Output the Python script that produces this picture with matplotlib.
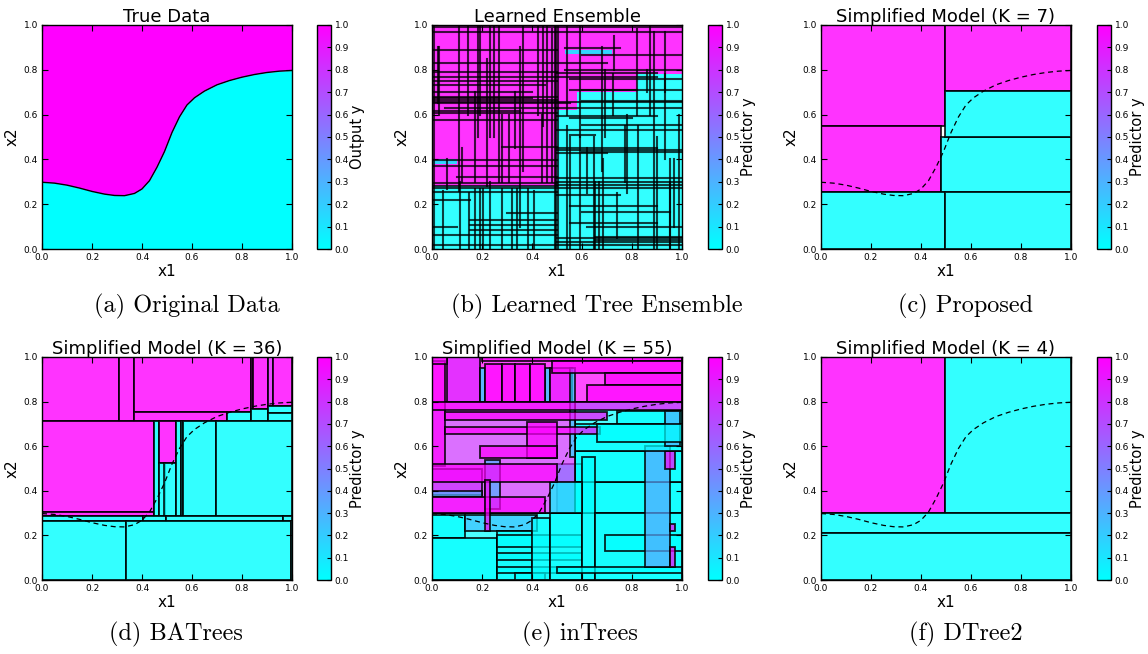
import numpy as np
import matplotlib
matplotlib.use("Agg")
import matplotlib.pyplot as plt
from matplotlib.patches import Rectangle
from matplotlib.cm import ScalarMappable
from matplotlib.colors import Normalize

# true decision boundary
curve_x = [0.0, 0.05, 0.10, 0.15, 0.20, 0.25, 0.29, 0.33, 0.37, 0.40, 0.43, 0.46,
           0.49, 0.52, 0.55, 0.58, 0.61, 0.65, 0.70, 0.75, 0.80, 0.85, 0.90, 0.95, 1.0]
curve_y = [0.298, 0.294, 0.285, 0.272, 0.257, 0.245, 0.239, 0.238, 0.248, 0.268, 0.305, 0.365,
           0.435, 0.52, 0.59, 0.643, 0.675, 0.705, 0.733, 0.752, 0.767, 0.779, 0.788, 0.794, 0.797]

# rectangles: (x0, x1, y0, y1, value)
ens_rects = [
    (0.0, 0.5, 0.28, 1.0, 1.0), (0.0, 0.5, 0.0, 0.28, 0.0),
    (0.5, 1.0, 0.78, 1.0, 1.0), (0.82, 1.0, 0.0, 0.78, 0.0),
    (0.58, 0.82, 0.70, 0.78, 1.0), (0.58, 0.82, 0.0, 0.70, 0.0),
    (0.5, 0.58, 0.62, 0.78, 1.0), (0.5, 0.58, 0.0, 0.62, 0.0),
    (0.0, 0.1, 0.38, 0.40, 0.0), (0.53, 0.72, 0.87, 0.89, 0.0),
]
ens_vlines = [
    (0.007, 0.0, 1.0), (0.027, 0.6, 0.9), (0.107, 0.26, 1.0), (0.113, 0.0, 0.3), (0.147, 0.0, 0.25),
    (0.173, 0.3, 0.7), (0.19, 0.6, 1.0), (0.22, 0.28, 0.85), (0.233, 0.0, 0.3), (0.267, 0.3, 1.0),
    (0.28, 0.3, 0.6), (0.307, 0.3, 0.6), (0.32, 0.0, 0.27), (0.353, 0.1, 0.9), (0.364, 0.35, 1.0),
    (0.407, 0.0, 0.26), (0.44, 0.3, 0.6), (0.48, 0.3, 0.98), (0.49, 0.0, 1.0), (0.497, 0.0, 1.0),
    (0.505, 0.0, 1.0), (0.54, 0.0, 0.55), (0.593, 0.5, 1.0), (0.647, 0.0, 0.5), (0.667, 0.0, 0.3),
    (0.68, 0.35, 0.9), (0.727, 0.8, 0.95), (0.78, 0.25, 0.6), (0.82, 0.6, 0.98), (0.86, 0.7, 0.8),
    (0.887, 0.0, 0.97), (0.9, 0.0, 0.5), (0.933, 0.7, 0.97), (0.953, 0.0, 0.3), (0.967, 0.1, 0.4),
    (0.987, 0.0, 0.6), (0.06, 0.27, 0.4), (0.33, 0.45, 0.7), (0.62, 0.25, 0.45), (0.74, 0.05, 0.25),
    (0.145, 0.6, 1.0), (0.185, 0.5, 1.0), (0.232, 0.5, 1.0), (0.249, 0.5, 1.0), (0.425, 0.6, 1.0),
    (0.445, 0.55, 1.0), (0.459, 0.3, 1.0), (0.023, 0.65, 0.9), (0.552, 0.0, 0.5), (0.592, 0.0, 0.5),
    (0.652, 0.0, 0.3), (0.685, 0.0, 0.4), (0.772, 0.3, 0.55), (0.825, 0.0, 0.55), (0.952, 0.0, 0.4),
    (0.045, 0.0, 0.26), (0.172, 0.0, 0.27), (0.192, 0.0, 0.27), (0.205, 0.0, 0.27), (0.279, 0.0, 0.27),
    (0.339, 0.0, 0.27), (0.385, 0.0, 0.27), (0.119, 0.3, 0.45), (0.539, 0.6, 1.0), (0.692, 0.5, 0.8),
    (0.725, 0.6, 0.78), (0.872, 0.6, 1.0), (0.932, 0.4, 0.78),
]
ens_hlines = [
    (0.993, 0.0, 1.0), (0.97, 0.0, 1.0), (0.896, 0.53, 0.75), (0.888, 0.0, 0.5), (0.83, 0.0, 0.7),
    (0.80, 0.53, 1.0), (0.79, 0.0, 0.5), (0.77, 0.0, 0.9), (0.75, 0.0, 0.5), (0.71, 0.6, 0.82),
    (0.673, 0.0, 0.4), (0.658, 0.0, 1.0), (0.65, 0.0, 0.55), (0.628, 0.5, 1.0), (0.606, 0.0, 0.5),
    (0.583, 0.55, 0.8), (0.554, 0.6, 1.0), (0.531, 0.5, 1.0), (0.51, 0.55, 0.65), (0.457, 0.28, 0.5),
    (0.44, 0.5, 1.0), (0.427, 0.5, 0.7), (0.397, 0.0, 0.5), (0.37, 0.0, 0.5), (0.323, 0.1, 0.5),
    (0.30, 0.5, 1.0), (0.293, 0.0, 0.5), (0.286, 0.5, 1.0), (0.271, 0.0, 1.0), (0.256, 0.0, 0.5),
    (0.219, 0.0, 0.15), (0.19, 0.55, 0.9), (0.16, 0.3, 0.5), (0.13, 0.15, 0.5), (0.10, 0.0, 0.1),
    (0.10, 0.62, 1.0), (0.085, 0.15, 0.5), (0.055, 0.65, 1.0), (0.04, 0.65, 1.0), (0.018, 0.0, 1.0),
    (0.73, 0.0, 0.45), (0.70, 0.0, 0.4), (0.68, 0.0, 0.5), (0.666, 0.0, 0.5), (0.63, 0.05, 0.5),
    (0.616, 0.0, 0.35), (0.575, 0.0, 0.5), (0.45, 0.5, 0.9), (0.435, 0.6, 1.0), (0.315, 0.5, 1.0),
    (0.241, 0.5, 0.75), (0.166, 0.6, 0.95), (0.115, 0.55, 0.9), (0.048, 0.5, 1.0), (0.033, 0.5, 1.0),
    (0.063, 0.0, 0.5), (0.107, 0.15, 0.5), (0.28, 0.0, 0.5), (0.866, 0.6, 1.0), (0.784, 0.5, 0.9),
    (0.76, 0.55, 1.0), (0.71, 0.55, 1.0), (0.66, 0.6, 1.0), (0.595, 0.5, 0.9),
]

prop_rects = [
    (0.0, 0.495, 0.55, 1.0, 1.0), (0.495, 1.0, 0.705, 1.0, 1.0), (0.0, 0.48, 0.255, 0.55, 1.0),
    (0.48, 1.0, 0.255, 0.5, 0.0), (0.495, 1.0, 0.5, 0.705, 0.0), (0.0, 0.495, 0.0, 0.255, 0.0),
    (0.495, 1.0, 0.0, 0.255, 0.0),
]

ba_rects = [
    (0.0, 0.31, 0.715, 1.0, 1.0), (0.31, 0.37, 0.715, 1.0, 1.0), (0.37, 0.835, 0.755, 1.0, 1.0),
    (0.37, 0.74, 0.715, 0.755, 1.0), (0.74, 0.835, 0.715, 0.755, 0.0), (0.835, 0.845, 0.765, 1.0, 1.0),
    (0.845, 0.905, 0.765, 1.0, 1.0), (0.835, 0.905, 0.715, 0.765, 0.0), (0.905, 0.925, 0.78, 1.0, 0.9),
    (0.925, 1.0, 0.78, 1.0, 1.0), (0.905, 1.0, 0.75, 0.78, 0.0), (0.905, 1.0, 0.715, 0.75, 0.0),
    (0.0, 0.45, 0.307, 0.715, 1.0), (0.0, 0.45, 0.285, 0.307, 1.0), (0.45, 0.468, 0.285, 0.715, 0.0),
    (0.468, 0.537, 0.524, 0.715, 1.0), (0.468, 0.49, 0.285, 0.524, 0.0), (0.49, 0.537, 0.285, 0.524, 0.0),
    (0.537, 0.555, 0.285, 0.715, 0.0), (0.555, 0.564, 0.285, 0.715, 0.0), (0.564, 0.698, 0.285, 0.715, 0.0),
    (0.698, 1.0, 0.285, 0.715, 0.0), (0.0, 0.405, 0.265, 0.285, 0.0), (0.405, 0.495, 0.265, 0.285, 0.0),
    (0.495, 0.965, 0.265, 0.285, 0.0), (0.965, 1.0, 0.265, 0.285, 0.0), (0.0, 0.337, 0.0, 0.265, 0.0),
    (0.337, 0.995, 0.0, 0.265, 0.0), (0.995, 1.0, 0.0, 0.265, 0.0),
]

in_rects = [
    (0.0, 1.0, 0.0, 0.30, 0.0), (0.0, 1.0, 0.80, 1.0, 1.0), (0.57, 1.0, 0.30, 0.80, 0.0),
    (0.0, 0.13, 0.19, 0.29, 0.0), (0.0, 0.26, 0.0, 0.19, 0.0), (0.13, 0.42, 0.22, 0.29, 0.25),
    (0.26, 0.40, 0.0, 0.22, 0.0), (0.26, 0.60, 0.15, 0.20, 0.0), (0.26, 0.60, 0.09, 0.12, 0.0),
    (0.26, 0.60, 0.03, 0.06, 0.0), (0.33, 0.45, 0.0, 0.03, 0.0), (0.40, 0.47, 0.0, 0.28, 0.0),
    (0.47, 0.60, 0.0, 0.30, 0.0), (0.50, 1.0, 0.30, 0.44, 0.0), (0.50, 0.60, 0.44, 0.52, 0.0),
    (0.57, 1.0, 0.44, 0.58, 0.0), (0.60, 0.65, 0.0, 0.55, 0.0), (0.65, 1.0, 0.0, 0.30, 0.0),
    (0.69, 1.0, 0.13, 0.20, 0.0), (0.50, 1.0, 0.03, 0.06, 0.0), (0.85, 0.95, 0.06, 0.60, 0.35),
    (0.93, 0.97, 0.50, 0.58, 1.0), (0.95, 0.97, 0.22, 0.25, 1.0), (0.95, 0.97, 0.06, 0.15, 1.0),
    (0.57, 1.0, 0.58, 0.70, 0.0), (0.74, 1.0, 0.70, 0.76, 0.0), (0.93, 0.99, 0.60, 0.76, 0.3),
    (0.0, 0.57, 0.30, 0.80, 0.8), (0.21, 0.27, 0.32, 0.54, 0.3), (0.47, 0.60, 0.30, 0.44, 0.0),
    (0.0, 0.05, 0.51, 0.98, 1.0), (0.06, 0.19, 0.80, 1.0, 0.85), (0.19, 0.21, 0.80, 0.95, 0.1),
    (0.45, 0.47, 0.80, 0.95, 0.1), (0.21, 0.28, 0.80, 0.97, 1.0), (0.28, 0.33, 0.80, 0.97, 1.0),
    (0.33, 0.39, 0.80, 0.97, 1.0), (0.39, 0.45, 0.80, 0.97, 1.0), (0.47, 0.56, 0.80, 0.95, 0.9),
    (0.55, 0.57, 0.55, 0.95, 0.15), (0.0, 0.06, 0.97, 1.0, 1.0), (0.20, 1.0, 0.98, 1.0, 1.0),
    (0.48, 1.0, 0.93, 0.98, 1.0), (0.69, 1.0, 0.875, 0.93, 1.0), (0.62, 1.0, 0.80, 0.875, 1.0),
    (0.0, 1.0, 0.763, 0.80, 1.0), (0.05, 0.70, 0.718, 0.755, 1.0), (0.05, 0.67, 0.656, 0.686, 1.0),
    (0.66, 1.0, 0.62, 0.70, 0.0), (0.38, 0.50, 0.546, 0.71, 1.0), (0.19, 0.50, 0.546, 0.60, 1.0),
    (0.0, 0.20, 0.38, 0.50, 0.8), (0.0, 0.20, 0.37, 0.40, 0.3), (0.0, 0.50, 0.44, 0.52, 1.0),
    (0.0, 0.45, 0.30, 0.37, 1.0), (0.21, 0.23, 0.22, 0.45, 1.0),
]

dt_rects = [
    (0.0, 0.495, 0.30, 1.0, 1.0), (0.495, 1.0, 0.30, 1.0, 0.0),
    (0.0, 1.0, 0.21, 0.30, 0.0), (0.0, 1.0, 0.0, 0.21, 0.0),
]

titles = ["True Data", "Learned Ensemble", "Simplified Model (K = 7)",
          "Simplified Model (K = 36)", "Simplified Model (K = 55)", "Simplified Model (K = 4)"]
cb_labels = ["Output y"] + ["Predictor y"] * 5
captions = ["(a) Original Data", "(b) Learned Tree Ensemble", "(c) Proposed",
            "(d) BATrees", "(e) inTrees", "(f) DTree2"]
caption_x = [187, 597, 965, 176, 580, 966]

W, H = 1148, 654
cmap = plt.get_cmap("cool")
fig = plt.figure(figsize=(W / 100, H / 100), dpi=100)

ax_left = [42, 432, 821]
cb_left = [317, 708, 1097]
row_top = [25, 357]
row_bot = [249, 580]


def draw_rects(ax, rects, alpha=0.8, ealpha=0.85, lw=1.3):
    for x0, x1, y0, y1, v in rects:
        c = cmap(v)
        ax.add_patch(Rectangle((x0, y0), x1 - x0, y1 - y0,
                               facecolor=(c[0], c[1], c[2], alpha),
                               edgecolor=(0, 0, 0, ealpha), linewidth=lw))


axes = []
for r in range(2):
    for c in range(3):
        i = r * 3 + c
        b = 1 - row_bot[r] / H
        h = (row_bot[r] - row_top[r]) / H
        ax = fig.add_axes([ax_left[c] / W, b, 250 / W, h])
        cax = fig.add_axes([cb_left[c] / W, b, 14 / W, h])
        ax.set_xlim(0, 1)
        ax.set_ylim(0, 1)
        ax.set_xticks(np.arange(0, 1.01, 0.2))
        ax.set_yticks(np.arange(0, 1.01, 0.2))
        ax.set_xticklabels(["%.1f" % t for t in np.arange(0, 1.01, 0.2)])
        ax.set_yticklabels(["%.1f" % t for t in np.arange(0, 1.01, 0.2)])
        ax.tick_params(direction="in", top=True, right=True, length=4, width=0.8,
                       labelsize=6.5, pad=3)
        for s in ax.spines.values():
            s.set_linewidth(1.0)
        ax.set_title(titles[i], fontsize=13, pad=2)
        ax.set_xlabel("x1", fontsize=11, labelpad=1)
        ax.set_ylabel("x2", fontsize=11, labelpad=3)

        sm = ScalarMappable(norm=Normalize(0, 1), cmap=cmap)
        cb = fig.colorbar(sm, cax=cax, ticks=np.arange(0, 1.01, 0.1))
        cb.ax.set_yticklabels(["%.1f" % t for t in np.arange(0, 1.01, 0.1)])
        cb.ax.tick_params(direction="in", length=3, width=0.8, labelsize=6.5, pad=2.5)
        cb.outline.set_linewidth(1.0)
        cb.set_label(cb_labels[i], fontsize=10.5, labelpad=1)

        fig.text(caption_x[i] / W, 1 - (306 if r == 0 else 634) / H, captions[i],
                 ha="center", va="center", fontsize=17.5, family="cmr10")
        axes.append(ax)

# (a) original data
ax = axes[0]
ax.fill_between(curve_x, curve_y, 1, color=cmap(1.0), lw=0)
ax.fill_between(curve_x, 0, curve_y, color=cmap(0.0), lw=0)
ax.plot(curve_x, curve_y, color="k", lw=1.0)

# (b) ensemble
ax = axes[1]
draw_rects(ax, ens_rects, ealpha=0.0, lw=0)
for x, y0, y1 in ens_vlines:
    ax.plot([x, x], [y0, y1], color="k", alpha=0.75, lw=1.5)
for y, x0, x1 in ens_hlines:
    ax.plot([x0, x1], [y, y], color="k", alpha=0.75, lw=1.5)

# simplified models
for ax, rects, a in [(axes[2], prop_rects, 0.8), (axes[3], ba_rects, 0.8),
                     (axes[4], in_rects, 0.7), (axes[5], dt_rects, 0.8)]:
    draw_rects(ax, rects, alpha=a)
    ax.plot(curve_x, curve_y, color="k", lw=0.9, ls=(0, (4, 3)))

fig.savefig("out.png", dpi=100)
